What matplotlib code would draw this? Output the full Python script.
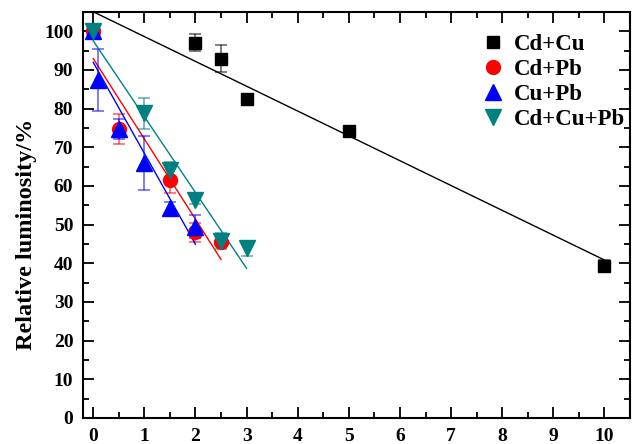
import numpy as np
import matplotlib
matplotlib.use("Agg")
import matplotlib.pyplot as plt
from matplotlib.ticker import MultipleLocator

plt.rcParams["font.family"] = ["Liberation Serif", "DejaVu Serif"]
plt.rcParams["font.weight"] = "bold"

# Data
cdcu_x = [0, 2, 2.5, 3, 5, 10]
cdcu_y = [100, 97.1, 92.9, 82.4, 74.2, 39.3]
cdcu_err = [1.0, 2.1, 3.5, 1.0, 0.5, 1.5]

cdpb_x = [0, 0.5, 1.5, 2, 2.5]
cdpb_y = [100, 74.7, 61.6, 48.0, 45.4]
cdpb_err = [1.0, 3.8, 3.5, 2.5, 1.0]

cupb_x = [0, 0.1, 0.5, 1, 1.5, 2]
cupb_y = [100, 87.5, 74.7, 65.9, 54.3, 49.5]
cupb_err = [1.0, 8.0, 2.5, 7.0, 1.5, 3.0]

cdcupb_x = [0, 1, 1.5, 2, 2.5, 3]
cdcupb_y = [100, 78.8, 64.2, 56.4, 45.8, 43.9]
cdcupb_err = [1.0, 4.0, 2.0, 1.0, 2.0, 2.0]

series = [
    ("Cd+Cu", cdcu_x, cdcu_y, cdcu_err, "black", "s", 9),
    ("Cd+Pb", cdpb_x, cdpb_y, cdpb_err, "red", "o", 10),
    ("Cu+Pb", cupb_x, cupb_y, cupb_err, "blue", "^", 11),
    ("Cd+Cu+Pb", cdcupb_x, cdcupb_y, cdcupb_err, "teal", "v", 11),
]

fig = plt.figure(figsize=(6.36, 4.44), dpi=100)
ax = fig.add_axes([0.1305, 0.0586, 0.8601, 0.9144])

for label, x, y, err, color, marker, ms in series:
    ax.errorbar(x, y, yerr=err, fmt="none", ecolor=color, alpha=0.6,
                elinewidth=1.2, capsize=4, capthick=1.2, zorder=2)
    ax.plot(x, y, linestyle="none", marker=marker, color=color,
            markersize=ms, label=label, zorder=3)
    # linear fit over the data range
    k, b = np.polyfit(x, y, 1)
    xs = np.array([min(x), max(x)])
    ax.plot(xs, k * xs + b, color=color, linewidth=1, zorder=2)

ax.set_xlim(-0.2, 10.5)
ax.set_ylim(0, 105)
ax.xaxis.set_major_locator(MultipleLocator(1))
ax.xaxis.set_minor_locator(MultipleLocator(0.5))
ax.yaxis.set_major_locator(MultipleLocator(10))
ax.yaxis.set_minor_locator(MultipleLocator(5))
ax.tick_params(which="both", direction="in", top=True, right=True,
               labelsize=14, width=1.3)
ax.tick_params(which="major", length=8)
ax.tick_params(which="minor", length=4)
ax.tick_params(axis="x", pad=7)
ax.tick_params(axis="y", pad=7)
for s in ax.spines.values():
    s.set_linewidth(1.5)

ax.set_ylabel("Relative luminosity/%", fontsize=17.5, fontweight="bold")
ax.yaxis.set_label_coords(-0.085, 0.453)

ax.legend(loc="upper right", frameon=False, fontsize=16.5, handletextpad=0.3,
          labelspacing=0.18, borderaxespad=0.2, handlelength=1.2,
          bbox_to_anchor=(1.016, 0.98))

fig.savefig("out.png", dpi=100)
